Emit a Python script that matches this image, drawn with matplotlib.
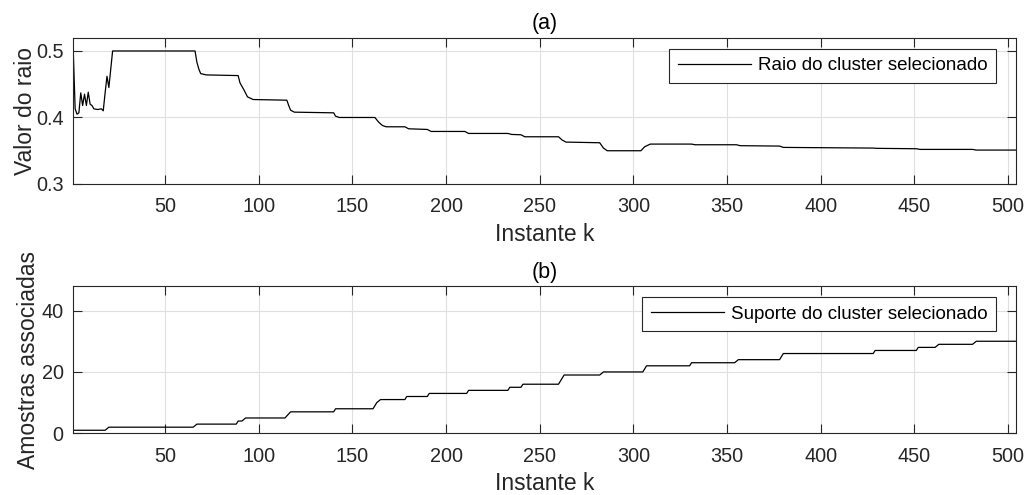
#!/usr/bin/env python3
import matplotlib
matplotlib.use('Agg')
import matplotlib.pyplot as plt

# radius of the selected cluster, breakpoints (instant k, value)
raio_k = [1, 2, 3, 4, 5, 6, 7, 8, 9, 10, 11, 12, 14, 16, 17, 18, 19, 20, 22,
          66, 67, 68, 69, 72, 89, 90, 91, 92, 94, 97,
          115, 116, 117, 119, 140, 141, 143, 162, 164, 166, 168, 178, 180,
          190, 192, 210, 212, 233, 235, 240, 242, 260, 262, 264, 282, 284,
          286, 304, 306, 309, 331, 333, 355, 357, 378, 380, 428, 430, 451,
          453, 481, 483, 504]
raio_val = [0.500, 0.413, 0.405, 0.407, 0.437, 0.418, 0.435, 0.418, 0.438,
            0.420, 0.418, 0.413, 0.412, 0.413, 0.410, 0.437, 0.462, 0.445,
            0.500, 0.500, 0.483, 0.473, 0.466, 0.464, 0.463, 0.452, 0.447,
            0.442, 0.431, 0.427, 0.426, 0.418, 0.411, 0.408, 0.407, 0.402,
            0.400, 0.400, 0.393, 0.388, 0.386, 0.386, 0.383, 0.382, 0.379,
            0.379, 0.376, 0.376, 0.3745, 0.374, 0.371, 0.371, 0.366, 0.363,
            0.362, 0.354, 0.350, 0.350, 0.356, 0.360, 0.360, 0.359, 0.359,
            0.3576, 0.357, 0.355, 0.354, 0.3536, 0.353, 0.352, 0.352, 0.351,
            0.351]

# number of samples associated to the selected cluster
suporte_k = [1, 18, 20, 65, 67, 88, 89, 91, 93, 114, 117, 140, 141, 161, 163,
             165, 178, 179, 190, 191, 211, 212, 233, 234, 240, 241, 260, 263,
             282, 284, 305, 307, 330, 331, 354, 356, 378, 380, 428, 429, 451,
             452, 461, 463, 481, 483, 504]
suporte_val = [1, 1, 2, 2, 3, 3, 4, 4, 5, 5, 7, 7, 8, 8, 10, 11, 11, 12, 12,
               13, 13, 14, 14, 15, 15, 16, 16, 19, 19, 20, 20, 22, 22, 23, 23,
               24, 24, 26, 26, 27, 27, 28, 28, 29, 29, 30, 30]

xticks = [50, 100, 150, 200, 250, 300, 350, 400, 450, 500]

dark = '#262626'
plt.rcParams['font.family'] = ['Liberation Sans', 'DejaVu Sans']
plt.rcParams['axes.edgecolor'] = dark
plt.rcParams['xtick.color'] = dark
plt.rcParams['ytick.color'] = dark
plt.rcParams['axes.labelcolor'] = dark


def style_axes(ax):
    ax.set_xlim(1, 504)
    ax.set_xticks(xticks)
    ax.grid(True, color='#dfdfdf', linewidth=0.8)
    ax.set_axisbelow(True)
    ax.tick_params(direction='in', length=6.8, width=0.8, top=True, right=True,
                   labelsize=14.3)
    ax.tick_params(axis='x', pad=9.5)
    ax.tick_params(axis='y', pad=7)
    for s in ax.spines.values():
        s.set_linewidth(0.8)
    ax.set_xlabel('Instante k', fontsize=16.5, labelpad=5)


fig = plt.figure(figsize=(10.29, 4.95), dpi=100)

ax1 = fig.add_axes([0.0712, 0.6283, 0.9158, 0.2956])
ax1.plot(raio_k, raio_val, color='black', linewidth=0.9,
         label='Raio do cluster selecionado')
style_axes(ax1)
ax1.set_ylim(0.3, 0.52)
ax1.set_yticks([0.3, 0.4, 0.5])
ax1.set_ylabel('Valor do raio', fontsize=16.5)
ax1.yaxis.set_label_coords(-0.039, 0.5)
ax1.set_title('(a)', fontsize=15.5, pad=6, color='black')

ax2 = fig.add_axes([0.0712, 0.1246, 0.9158, 0.2976])
ax2.plot(suporte_k, suporte_val, color='black', linewidth=0.9,
         label='Suporte do cluster selecionado')
style_axes(ax2)
ax2.set_ylim(0, 48)
ax2.set_yticks([0, 20, 40])
ax2.set_ylabel('Amostras associadas', fontsize=16.5)
ax2.yaxis.set_label_coords(-0.035, 0.5)
ax2.set_title('(b)', fontsize=15.5, pad=6, color='black')

for ax in (ax1, ax2):
    leg = ax.legend(loc='upper right', bbox_to_anchor=(0.979, 0.923),
                    fontsize=13.5, handlelength=3.9, handletextpad=0.37,
                    borderpad=0.45, borderaxespad=0, fancybox=False,
                    framealpha=1, edgecolor=dark)
    leg.get_frame().set_linewidth(0.8)

fig.savefig('out.png', dpi=100)
